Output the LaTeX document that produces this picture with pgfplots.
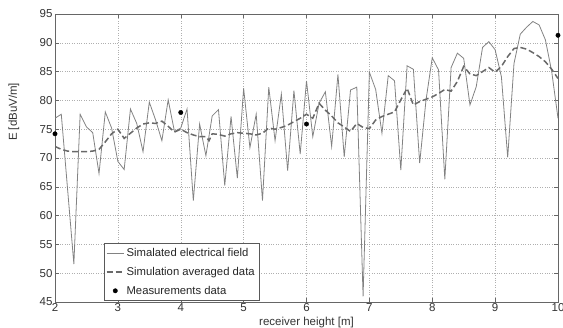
\documentclass[border=0pt]{standalone}
\usepackage{pgfplots}
\pgfplotsset{compat=1.18}
\usepackage{fontspec}
\setmainfont{Liberation Sans}
\definecolor{simgray}{RGB}{130,130,130}
\definecolor{avggray}{RGB}{105,105,105}
\definecolor{gridgray}{RGB}{175,175,175}
\begin{document}
\begin{tikzpicture}
\begin{axis}[
  scale only axis,
  width=503pt, height=288pt,
  xmin=2, xmax=10, ymin=45, ymax=95,
  xtick={2,3,...,10}, ytick={45,50,...,95},
  grid=major,
  grid style={dotted, gridgray, line width=0.5pt},
  axis line style={gray!80!black, line width=0.6pt},
  tick style={gray!80!black, line width=0.5pt},
  tick align=inside,
  major tick length=4pt,
  /pgf/number format/assume math mode=true,
  tick label style={font=\fontsize{11.5}{13}\selectfont, text=black!80},
  xticklabel style={yshift=2pt},
  yticklabel style={xshift=1pt},
  xlabel={receiver height [m]},
  ylabel={E [dBuV/m]},
  label style={font=\fontsize{11.5}{13}\selectfont, text=black!80},
  xlabel style={yshift=1.5pt},
  ylabel style={at={(axis description cs:-0.064,0.66)}},
  legend cell align=left,
  legend style={at={(axis description cs:0.097,0.004)}, anchor=south west,
    font=\fontsize{11.3}{13}\selectfont, draw=gray!70!black, row sep=5pt,
    inner xsep=2pt, inner ysep=3pt, text=black!85},
]
\addplot[simgray, line width=0.8pt] coordinates {
(2.0,76.9) (2.1,77.6) (2.2,64.6) (2.3,51.6) (2.4,77.6) (2.5,75.4) (2.6,74.4) (2.7,67.3) (2.8,78.0) (2.9,75.2)
(3.0,69.4) (3.1,68.0) (3.2,78.5) (3.3,76.0) (3.4,71.1) (3.5,79.7) (3.6,76.6) (3.7,73.0) (3.8,80.1) (3.9,74.6)
(4.0,75.2) (4.1,78.5) (4.2,62.6) (4.3,75.9) (4.4,70.4) (4.5,77.3) (4.6,78.4) (4.7,65.2) (4.8,77.2) (4.9,66.5)
(5.0,82.1) (5.1,71.8) (5.2,77.6) (5.3,62.6) (5.4,82.3) (5.5,73.0) (5.6,81.1) (5.7,67.8) (5.8,81.7) (5.9,70.7)
(6.0,83.4) (6.1,73.7) (6.2,79.5) (6.3,81.5) (6.4,72.0) (6.5,84.5) (6.6,70.2) (6.7,81.8) (6.8,82.3) (6.9,46.0)
(7.0,84.9) (7.1,81.9) (7.2,74.3) (7.3,84.3) (7.4,83.4) (7.5,67.9) (7.6,86.0) (7.7,85.4) (7.8,69.1) (7.9,80.0)
(8.0,87.4) (8.1,85.3) (8.2,66.3) (8.3,85.7) (8.4,88.2) (8.5,87.3) (8.6,79.2) (8.7,82.4) (8.8,89.2) (8.9,90.2)
(9.0,88.8) (9.1,84.1) (9.2,70.1) (9.3,86.4) (9.4,91.5) (9.5,92.7) (9.6,93.7) (9.7,93.1) (9.8,90.5) (9.9,85.0)
(10.0,76.9)
};
\addlegendentry{Simalated electrical field}
\addplot[avggray, line width=1.5pt, dash pattern=on 6pt off 3pt] coordinates {
(2.0,72.0) (2.1,71.5) (2.2,71.2) (2.3,71.1) (2.4,71.1) (2.5,71.1) (2.6,71.2) (2.7,71.5) (2.8,72.8) (2.9,74.2)
(3.0,75.0) (3.1,73.4) (3.2,74.3) (3.3,75.2) (3.4,75.9) (3.5,76.1) (3.6,76.0) (3.7,76.4) (3.8,75.5) (3.9,74.5)
(4.0,75.0) (4.1,74.4) (4.2,74.0) (4.3,73.7) (4.4,73.7) (4.45,73.0) (4.5,74.2) (4.6,74.1) (4.7,73.8) (4.8,74.2) (4.9,74.4)
(5.0,74.3) (5.1,74.2) (5.2,74.0) (5.3,74.3) (5.4,75.2) (5.5,75.0) (5.6,75.3) (5.7,75.7) (5.8,76.3) (5.9,76.9)
(6.0,77.6) (6.1,76.9) (6.2,79.5) (6.3,78.3) (6.4,77.3) (6.5,76.1) (6.6,75.4) (6.7,74.6) (6.8,76.0) (6.9,75.3)
(7.0,75.1) (7.1,76.6) (7.2,77.2) (7.3,77.6) (7.4,78.0) (7.5,80.1) (7.6,82.1) (7.7,79.2) (7.8,79.8) (7.9,80.2)
(8.0,80.6) (8.1,81.2) (8.2,81.9) (8.3,81.6) (8.4,83.3) (8.5,85.9) (8.6,84.6) (8.7,84.3) (8.8,85.0) (8.9,85.7)
(9.0,84.9) (9.1,85.9) (9.2,87.6) (9.3,89.0) (9.4,89.2) (9.5,88.9) (9.6,88.3) (9.7,87.6) (9.8,86.7) (9.9,85.4)
(10.0,83.8)
};
\addlegendentry{Simulation averaged data}
\addplot[only marks, mark=*, mark size=2.2pt, black] coordinates {
(2.0,74.2) (4.0,77.9) (6.0,75.9) (10.0,91.3)
};
\addlegendentry{Measurements data}
\end{axis}
\pgfresetboundingbox
\path ([shift={(-55pt,-26pt)}]current axis.south west) rectangle ([shift={(5pt,14pt)}]current axis.north east);
\end{tikzpicture}
\end{document}
